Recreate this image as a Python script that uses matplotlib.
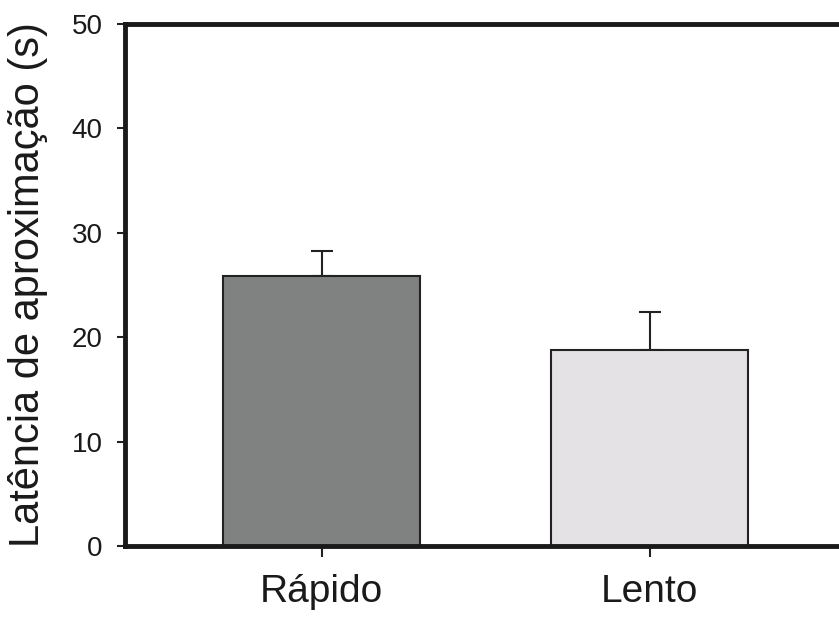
import matplotlib
matplotlib.use("Agg")
import matplotlib.pyplot as plt

# Dados
grupos = ["Rápido", "Lento"]
medias = [25.9, 18.8]
erros = [2.4, 3.6]
cores = ["#808281", "#e4e2e5"]

plt.rcParams['font.family'] = ['Liberation Sans', 'DejaVu Sans']

fig = plt.figure(figsize=(8.39, 6.18), dpi=100)
ax = fig.add_axes([125 / 839, 72 / 618, 725 / 839, 522 / 618])

pos = list(range(len(grupos)))
ax.bar(pos, medias, width=0.6, color=cores, edgecolor="#222222", linewidth=1.5, zorder=2)
ax.errorbar(pos, medias, yerr=[[0] * len(erros), erros], fmt="none", ecolor="#222222",
            elinewidth=1.5, capsize=8, capthick=1.5, zorder=1)

ax.set_xlim(-0.6, 1.61)
ax.set_ylim(0, 50)
ax.set_yticks([0, 10, 20, 30, 40, 50])
ax.set_xticks(pos)
ax.set_xticklabels(grupos, fontsize=28, color="#1a1a1a")
ax.tick_params(axis="y", labelsize=20, labelcolor="#1a1a1a", length=6, width=1.5,
               color="#222222", pad=10)
ax.tick_params(axis="x", length=8, width=1.5, color="#222222", pad=12)
ax.set_ylabel("Latência de aproximação (s)", fontsize=30, labelpad=17, color="#1a1a1a")

ax.spines["right"].set_visible(False)
for lado in ["left", "bottom", "top"]:
    ax.spines[lado].set_linewidth(3.5)
    ax.spines[lado].set_color("#1a1a1a")

plt.savefig("out.png", dpi=100)
